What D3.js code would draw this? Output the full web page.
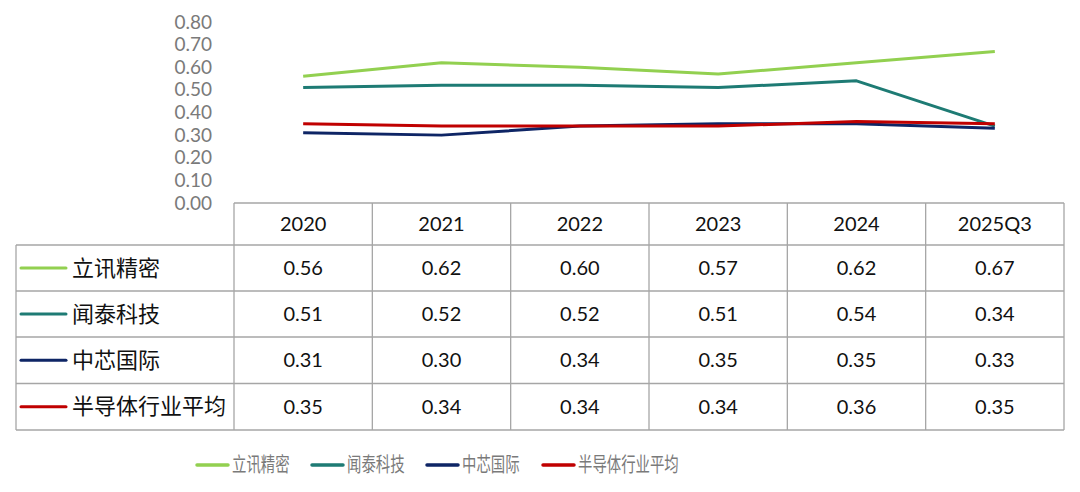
<!DOCTYPE html>
<html>
<head>
<meta charset="utf-8">
<script src="https://cdn.jsdelivr.net/npm/d3@7"></script>
<style>
  body { margin: 0; background: #fff; }
  text { font-family: Lato, "Noto Sans CJK SC", sans-serif; }
</style>
</head>
<body>
<svg id="canvas" width="1080" height="492"></svg>
<script>
"use strict"

const periods = ["2020", "2021", "2022", "2023", "2024", "2025Q3"]
const seriesNames = ["立讯精密", "闻泰科技", "中芯国际", "半导体行业平均"]
const seriesColors = ["#92d050", "#1e7b74", "#0e2565", "#c00000"]
const luxshare = [0.56, 0.62, 0.60, 0.57, 0.62, 0.67]
const wingtech = [0.51, 0.52, 0.52, 0.51, 0.54, 0.34]
const smic = [0.31, 0.30, 0.34, 0.35, 0.35, 0.33]
const industryAvg = [0.35, 0.34, 0.34, 0.34, 0.36, 0.35]
const yTicks = [0, 0.1, 0.2, 0.3, 0.4, 0.5, 0.6, 0.7, 0.8]

const seriesValues = [luxshare, wingtech, smic, industryAvg]

const svg = d3.select("#canvas")

const tableLeft = 16
const plotLeft = 234
const plotRight = 1064
const plotTop = 22
const plotBottom = 203
const rowH = [42, 46, 46, 46.5, 46.5]

const x = d3.scaleBand().domain(periods).range([plotLeft, plotRight])
const y = d3.scaleLinear().domain([0, 0.8]).range([plotBottom, plotTop])

// y axis labels (no axis line)
const yAxis = d3.axisLeft(y).tickValues(yTicks).tickFormat(d3.format(".2f")).tickSize(0).tickPadding(0)
const gy = svg.append("g").attr("transform", `translate(212,0)`).call(yAxis)
gy.select(".domain").remove()
gy.selectAll("text")
  .attr("font-size", 19)
  .attr("fill", "#7a7a7a")
  .style("font-family", "Lato, sans-serif")

// lines
const line = d3.line()
  .x((d, i) => x(periods[i]) + x.bandwidth() / 2)
  .y(d => y(d))

svg.append("g").selectAll("path")
  .data(seriesValues)
  .enter().append("path")
    .attr("d", d => line(d))
    .attr("fill", "none")
    .attr("stroke", (d, i) => seriesColors[i])
    .attr("stroke-width", 3)
    .attr("stroke-linejoin", "round")

// data table
const rowY = [plotBottom]
rowH.forEach(h => rowY.push(rowY[rowY.length - 1] + h))
const tableBottom = rowY[rowY.length - 1]
const grid = svg.append("g").attr("stroke", "#a6a6a6").attr("stroke-width", 1.3).attr("fill", "none")

// horizontal lines
grid.append("line").attr("x1", plotLeft).attr("x2", plotRight).attr("y1", rowY[0]).attr("y2", rowY[0])
rowY.slice(1).forEach(yy => {
  grid.append("line").attr("x1", tableLeft).attr("x2", plotRight).attr("y1", yy).attr("y2", yy)
})
// vertical lines
grid.append("line").attr("x1", tableLeft).attr("x2", tableLeft).attr("y1", rowY[1]).attr("y2", tableBottom)
periods.forEach(p => {
  grid.append("line").attr("x1", x(p)).attr("x2", x(p)).attr("y1", rowY[0]).attr("y2", tableBottom)
})
grid.append("line").attr("x1", plotRight).attr("x2", plotRight).attr("y1", rowY[0]).attr("y2", tableBottom)

// header
svg.append("g").selectAll("text")
  .data(periods)
  .enter().append("text")
    .attr("x", d => x(d) + x.bandwidth() / 2)
    .attr("y", (rowY[0] + rowY[1]) / 2)
    .attr("dy", "0.35em")
    .attr("text-anchor", "middle")
    .attr("font-size", 20)
    .attr("fill", "#111")
    .text(d => d)

// rows
seriesNames.forEach((name, i) => {
  const cy = (rowY[i + 1] + rowY[i + 2]) / 2
  const g = svg.append("g")
  g.append("line")
    .attr("x1", 21).attr("x2", 66).attr("y1", cy).attr("y2", cy)
    .attr("stroke", seriesColors[i]).attr("stroke-width", 3).attr("stroke-linecap", "round")
  g.append("text")
    .attr("x", 72).attr("y", cy).attr("dy", "0.35em")
    .attr("font-size", 22).attr("fill", "#111")
    .style("font-family", "'Noto Sans CJK SC', sans-serif")
    .text(name)
  g.selectAll("text.val")
    .data(seriesValues[i])
    .enter().append("text")
      .attr("class", "val")
      .attr("x", (d, j) => x(periods[j]) + x.bandwidth() / 2)
      .attr("y", cy).attr("dy", "0.35em")
      .attr("text-anchor", "middle")
      .attr("font-size", 20).attr("fill", "#111")
      .text(d => d3.format(".2f")(d))
})

// legend (text is horizontally condensed in the original)
const legendX = [197, 312, 427, 543]
const legendY = 465
const legend = svg.append("g").selectAll("g")
  .data(seriesNames)
  .enter().append("g")
    .attr("transform", (d, i) => `translate(${legendX[i]},${legendY})`)
legend.append("line")
  .attr("x1", 0).attr("x2", 31).attr("y1", 0).attr("y2", 0)
  .attr("stroke", (d, i) => seriesColors[i]).attr("stroke-width", 3.5).attr("stroke-linecap", "round")
legend.append("text")
  .attr("transform", "translate(35,0) scale(0.72,1)")
  .attr("dy", "0.35em")
  .attr("font-size", 20).attr("fill", "#7a7a7a")
  .style("font-family", "'Noto Sans CJK SC', sans-serif")
  .text(d => d)
</script>
</body>
</html>
